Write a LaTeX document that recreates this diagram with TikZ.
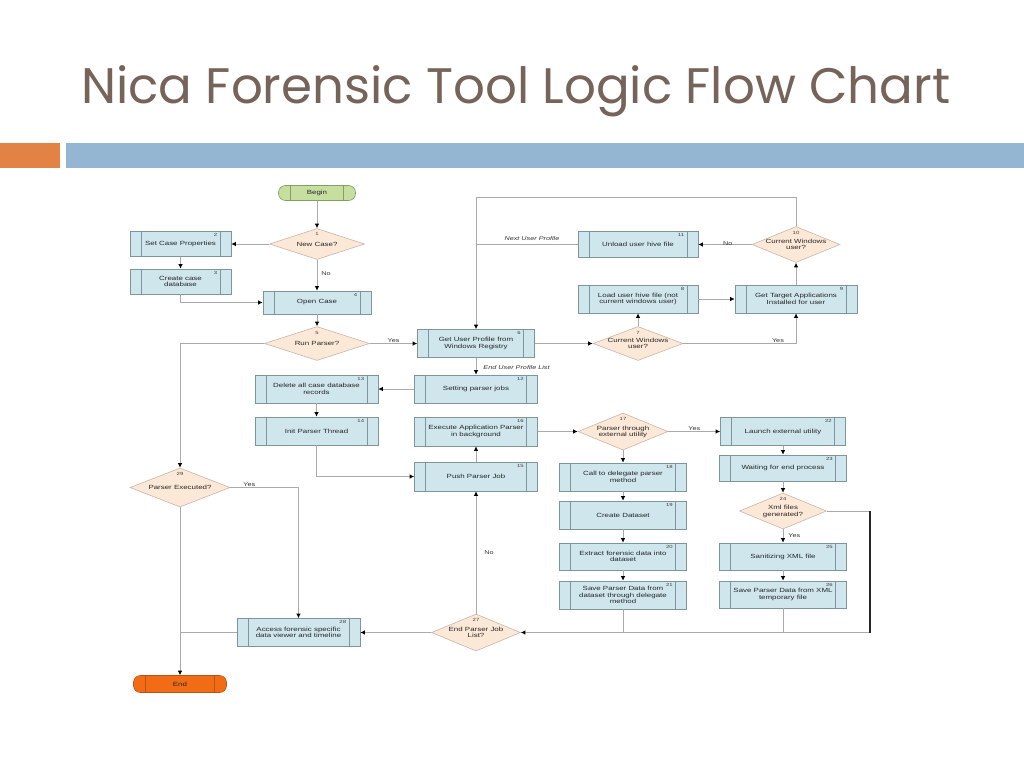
\documentclass[tikz,border=0pt]{standalone}
\usepackage{fontspec}
\usepackage{graphicx}
\setmainfont{Liberation Sans}
\newfontfamily\titlefont{Poppins}
\newfontfamily\boxfont[FakeStretch=1.32]{Liberation Sans}
\usetikzlibrary{shapes.geometric,arrows.meta}
\definecolor{titlecol}{RGB}{118,99,89}
\definecolor{barorange}{RGB}{226,130,68}
\definecolor{barblue}{RGB}{148,182,210}
\definecolor{boxfill}{RGB}{207,230,237}
\definecolor{boxdraw}{RGB}{125,150,158}
\definecolor{decfill}{RGB}{252,232,215}
\definecolor{decdraw}{RGB}{200,182,168}
\definecolor{connc}{RGB}{170,170,170}
\definecolor{beginfill}{RGB}{198,222,160}
\definecolor{begindraw}{RGB}{130,160,100}
\definecolor{endfill}{RGB}{242,108,22}
\definecolor{enddraw}{RGB}{190,80,20}
\newcommand\dtxt[1]{\raisebox{-2.3pt}[0pt][0pt]{\makebox[0pt]{\begin{tabular}[c]{@{}c@{}}#1\end{tabular}}}}
\begin{document}
\begin{tikzpicture}[x=1pt,y=-1pt,
  txt/.style={font=\boxfont\fontsize{6}{6.6}\selectfont, align=center, text=black!85},
  numfont/.style={font=\boxfont\fontsize{4.5}{5}\selectfont, text=black!75, inner sep=1pt},
  proc/.style={txt, rectangle, draw=boxdraw, fill=boxfill, line width=0.6pt,
    minimum width=#1, minimum height=28pt, inner sep=1pt,
    path picture={\draw[boxdraw, line width=0.6pt]
      ([xshift=11pt]path picture bounding box.north west) -- ([xshift=11pt]path picture bounding box.south west)
      ([xshift=-11pt]path picture bounding box.north east) -- ([xshift=-11pt]path picture bounding box.south east);}},
  proc/.default=123pt,
  num/.style={label={[numfont, anchor=north east, xshift=-13pt, yshift=-1pt]north east:#1}},
  dec/.style={txt, diamond, draw=decdraw, fill=decfill, line width=0.6pt, inner sep=0pt},
  dnum/.style={label={[numfont, anchor=north, yshift=-3.5pt]north:#1}},
  term/.style={txt, rectangle, rounded corners=7pt, line width=0.6pt,
    path picture={\draw[#1, line width=0.6pt]
      ([xshift=12pt]path picture bounding box.north west) -- ([xshift=12pt]path picture bounding box.south west)
      ([xshift=-12pt]path picture bounding box.north east) -- ([xshift=-12pt]path picture bounding box.south east);}},
  conn/.style={draw=connc, line width=0.9pt},
  arr/.style={conn, -{Latex[length=4.5pt, width=4.5pt, color=black]}},
  lbl/.style={font=\boxfont\fontsize{5.5}{6}\selectfont, text=black!80, inner sep=1pt},
  ilbl/.style={lbl, font=\boxfont\fontsize{5.5}{6}\selectfont\itshape}
]
\useasboundingbox (0,0) rectangle (1024,768);
\fill[white] (0,0) rectangle (1024,768);

% title and bars
\node[anchor=base west, inner sep=0pt, text=titlecol] (title) at (81,103)
  {\resizebox{869pt}{!}{\titlefont Nica Forensic Tool Logic Flow Chart}};
\fill[barorange] (0,143) rectangle (60,168);
\fill[barblue] (66,143) rectangle (1024,168);

% terminators
\node[term=begindraw, draw=begindraw, fill=beginfill, minimum width=77pt, minimum height=15pt] (bgn) at (317,193) {Begin};
\node[term=enddraw, draw=enddraw, fill=endfill, minimum width=93pt, minimum height=17pt] (fin) at (180,684) {End};

% decisions
\node[dec, minimum width=95pt, minimum height=31pt, dnum=1] (n1) at (317,244) {\dtxt{New Case?}};
\node[dec, minimum width=105pt, minimum height=34pt, dnum=5] (n5) at (317,343.5) {\dtxt{Run Parser?}};
\node[dec, minimum width=90pt, minimum height=34pt, dnum=7] (n7) at (638,343.5) {\dtxt{Current Windows\\user?}};
\node[dec, minimum width=88pt, minimum height=36pt, dnum=10] (n10) at (796,244.5) {\dtxt{Current Windows\\user?}};
\node[dec, minimum width=90pt, minimum height=37pt, dnum=17] (n17) at (623,431.5) {\dtxt{Parser through\\external utility}};
\node[dec, minimum width=87pt, minimum height=36pt, dnum=24] (n24) at (783,511) {\dtxt{Xml files\\generated?}};
\node[dec, minimum width=89pt, minimum height=37pt, dnum=27] (n27) at (476,632.5) {\dtxt{End Parser Job\\List?}};
\node[dec, minimum width=100pt, minimum height=39pt, dnum=29] (n29) at (180,487.5) {\dtxt{Parser Executed?}};

% processes
\node[proc=101pt, minimum height=25pt, num=2] (n2) at (180.5,244) {Set Case Properties};
\node[proc=101pt, minimum height=25pt, num=3] (n3) at (180.5,281.5) {Create case\\database};
\node[proc=108pt, minimum height=23pt, num=4] (n4) at (317,302.5) {Open Case};
\node[proc=117pt, num=6] (n6) at (476,343.5) {Get User Profile from\\Windows Registry};
\node[proc=120pt, num=8] (n8) at (638,299) {Load user hive file (not\\current windows user)};
\node[proc=122pt, num=9] (n9) at (796,299) {Get Target Applications\\Installed for user};
\node[proc=120pt, minimum height=26pt, num=11] (n11) at (638,244.5) {Unload user hive file};
\node[proc, num=12] (n12) at (476,389) {Setting parser jobs};
\node[proc, num=13] (n13) at (316.5,389) {Delete all case database\\records};
\node[proc, num=14] (n14) at (316.5,431) {Init Parser Thread};
\node[proc, minimum height=29pt, num=15] (n15) at (476,476.5) {Push Parser Job};
\node[proc, minimum height=29pt, num=16] (n16) at (476,431.5) {Execute Application Parser\\in background};
\node[proc=127pt, num=18] (n18) at (623,477) {Call to delegate parser\\method};
\node[proc=127pt, num=19] (n19) at (623,515) {Create Dataset};
\node[proc=127pt, minimum height=27pt, num=20] (n20) at (623,556.5) {Extract forensic data into\\dataset};
\node[proc=127pt, num=21] (n21) at (623,595) {Save Parser Data from\\dataset through delegate\\method};
\node[proc=125pt, num=22] (n22) at (783,431.5) {Launch external utility};
\node[proc=127pt, minimum height=26pt, num=23] (n23) at (783,468) {Waiting for end process};
\node[proc=127pt, minimum height=27pt, num=25] (n25) at (783,556.5) {Sanitizing XML file};
\node[proc=127pt, minimum height=27pt, num=26] (n26) at (783,594.5) {Save Parser Data from XML\\temporary file};
\node[proc, num=28] (n28) at (298.5,632.5) {Access forensic specific\\data viewer and timeline};

% helper coordinates
\coordinate (top) at (476,197);
\coordinate (r24) at (870,511);
\coordinate (r27) at (870,632.5);
\coordinate (j28) at (180,632.5);

% connectors
\draw[arr] (bgn) -- (n1);
\draw[arr] (n1.west) -- (n2.east);
\draw[arr] (n2) -- (n3);
\draw[arr] (n3.south) |- (n4.west);
\draw[arr] (n1) -- node[lbl, right, pos=0.45, xshift=3pt]{No} (n4);
\draw[arr] (n4) -- (n5);
\draw[arr] (n5) -- node[lbl, above, pos=0.5]{Yes} (n6);
\draw[arr] (n6) -- (n7);
\draw[arr] (n7) -- (n8);
\draw[arr] (n8) -- (n9);
\draw[arr] (n7.east) -| node[lbl, above, pos=0.42]{Yes} (n9.south);
\draw[arr] (n9) -- (n10);
\draw[arr] (n10) -- node[lbl, above, pos=0.45, yshift=-3pt]{No} (n11);
\draw[arr] (n10.north) -- (n10.north |- top) -- (top) -- (n6.north);
\draw[conn] (n11.west) -- node[ilbl, above, pos=0.45, yshift=2pt]{Next User Profile} (n11.west -| top);
\draw[arr] (n6) -- node[ilbl, right, xshift=6pt, yshift=-1pt]{End User Profile List} (n12);
\draw[arr] (n12) -- (n13);
\draw[arr] (n13) -- (n14);
\draw[arr] (n14.south) |- (n15.west);
\draw[arr] (n15) -- (n16);
\draw[arr] (n16) -- (n17);
\draw[arr] (n17) -- node[lbl, above, pos=0.5]{Yes} (n22);
\draw[arr] (n22) -- (n23);
\draw[arr] (n23) -- (n24);
\draw[arr] (n24) -- node[lbl, right, pos=0.5, xshift=4pt]{Yes} (n25);
\draw[arr] (n25) -- (n26);
\draw[arr] (n17) -- (n18);
\draw[arr] (n18) -- (n19);
\draw[arr] (n19) -- (n20);
\draw[arr] (n20) -- (n21);
\draw[arr] (n24.east) -- (r24) -- (r27) -- (n27.east);
\draw[black!85, line width=1.2pt] (r24) -- (r27);
\draw[conn] (n21.south) -- (n21.south |- r27);
\draw[conn] (n26.south) -- (n26.south |- r27);
\draw[arr] (n27) -- node[lbl, right, pos=0.5, xshift=7pt]{No} (n15);
\draw[arr] (n27) -- (n28);
\draw[conn] (n28.west) -- (j28);
\draw[arr] (n5.west) -| (n29.north);
\draw[arr] (n29.east) -| node[lbl, above, pos=0.14]{Yes} (n28.north);
\draw[arr] (n29) -- (fin);
\end{tikzpicture}
\end{document}
